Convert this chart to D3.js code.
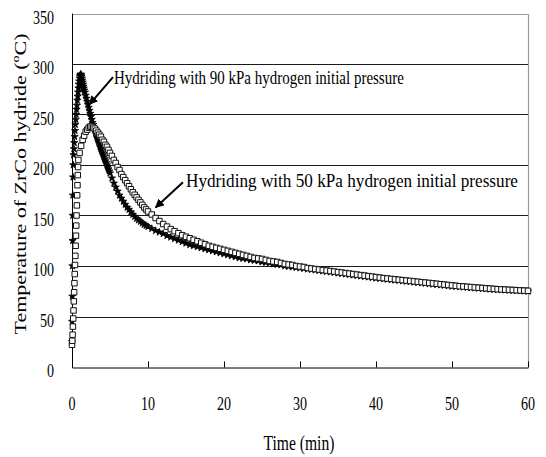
<!DOCTYPE html>
<html><head><meta charset="utf-8">
<script src="https://cdn.jsdelivr.net/npm/d3@7"></script>
<style>
html,body{margin:0;padding:0;background:#fff;}
svg{display:block;font-family:"Liberation Serif","Times New Roman",serif;}
</style></head>
<body><svg id="c" width="546" height="457"></svg>
<script>
// ---- data ----
const xTicks = [0,10,20,30,40,50,60];
const yTicks = [0,50,100,150,200,250,300,350];
const xTitle = "Time (min)";
const yTitleMain = "Temperature of ZrCo hydride (";
const yTitleSup = "o";
const yTitleEnd = "C)";
const label90 = "Hydriding with 90 kPa hydrogen initial pressure";
const label50 = "Hydriding with 50 kPa hydrogen initial pressure";

// [time (min), temperature (°C)] — 90 kPa run
const series90 = [
[0,25],[0.02,45],[0.04,70],[0.06,100],[0.08,125],[0.1,150],[0.12,170],[0.14,188],[0.16,200],
[0.2,210],[0.25,216],[0.3,222],[0.35,228],[0.4,234],[0.45,240],[0.5,245],[0.55,250],[0.6,255],[0.65,259],
[0.7,264],[0.75,268],[0.8,272],[0.85,276],[0.9,280],[0.95,283],[1,286],[1.05,288],[1.1,289],[1.15,290],
[1.2,289],[1.25,288],[1.3,286],[1.35,284],[1.4,282],[1.45,280],[1.5,278],[1.55,276],[1.6,274],
[1.7,272],[1.8,269],[1.9,266],[2,263],[2.1,260],[2.2,257],[2.3,254],[2.4,251],[2.5,248],[2.6,245],
[2.7,242],[2.8,240],[2.9,237],[3,235],[3.1,232],[3.2,230],[3.3,227],[3.4,225],[3.5,223],[3.6,221],
[3.7,218],[3.8,216],[3.9,214],[4,212],[4.1,210],[4.2,208],[4.3,206],[4.4,204],[4.5,202],[4.6,200],
[4.7,198],[4.8,196],[4.9,194],[5,192],
[5.25,187],[5.5,182],[5.75,178],[6,174],[6.25,170],[6.5,167],[6.75,164],[7,161],[7.25,158],[7.5,156],
[7.75,153.5],[8,151],[8.25,149],[8.5,147],[8.75,145.5],[9,144],[9.25,142.5],[9.5,141],[9.75,140],[10,139],
[10.5,137],[11,135],[11.5,133.5],[12,132],[12.5,130],[13,128.5],[13.5,127],[14,125.5],[14.5,124],[15,122.5],
[15.5,121],[16,120],[16.5,119],[17,118],[17.5,117],[18,116],[18.5,115],[19,114],[19.5,113],[20,112],
[20.5,111],[21,110],[21.5,109],[22,108],[22.5,107.5],[23,107],[23.5,106],[24,105.5],[24.5,105],[25,104],
[25.5,103.5],[26,103],[26.5,102],[27,101.5],[27.5,101],[28,100],[28.5,99.5],[29,99],[29.5,98.5],[30,98],
[30.5,97.5],[31,97],[31.5,96.5],[32,96],[32.5,95.5],[33,95],[33.5,94.5],[34,94],[34.5,93.5],[35,93],
[35.5,92.5],[36,92],[36.5,91.5],[37,91],[37.5,90.5],[38,90],[38.5,89.5],[39,89],[39.5,88.5],[40,88],
[40.5,87.6],[41,87.2],[41.5,86.8],[42,86.4],[42.5,86],[43,85.6],[43.5,85.2],[44,84.8],[44.5,84.4],[45,84],
[45.5,83.6],[46,83.2],[46.5,82.8],[47,82.4],[47.5,82],[48,81.6],[48.5,81.2],[49,80.8],[49.5,80.4],[50,80],
[50.5,79.7],[51,79.4],[51.5,79.1],[52,78.8],[52.5,78.5],[53,78.2],[53.5,77.9],[54,77.6],[54.5,77.3],[55,77],
[55.5,76.8],[56,76.6],[56.5,76.4],[57,76.2],[57.5,76],[58,75.8],[58.5,75.6],[59,75.4],[59.5,75.2],[60,75]
];

// [time (min), temperature (°C)] — 50 kPa run
const series50 = [
[0,22],[0.04,26],[0.08,32],[0.12,40],[0.16,48],[0.2,56],[0.24,65],[0.28,74],[0.32,83],[0.36,92],
[0.4,101],[0.44,110],[0.48,120],[0.52,130],[0.56,140],[0.6,150],[0.64,160],[0.68,170],[0.72,180],[0.76,190],
[0.8,198],[0.84,205],
[1,212],[1.2,219],[1.4,225],[1.6,229],[1.8,233],[2,235],[2.2,237],[2.4,238],[2.6,238],[2.8,237],
[3,236],[3.2,234],[3.4,232],[3.6,230],[3.8,228],[4,225],[4.2,223],[4.4,220],[4.6,218],[4.8,215],[5,212],
[5.25,209],[5.5,205],[5.75,202],[6,198],[6.25,195],[6.5,191],[6.75,188],[7,185],[7.25,182],[7.5,179],
[7.75,176],[8,173],[8.25,170.5],[8.5,168],[8.75,165.5],[9,163],[9.25,160.5],[9.5,158],[9.75,156],[10,154],
[10.5,151],[11,147.5],[11.5,144.5],[12,141.5],[12.5,139],[13,136.5],[13.5,134.5],[14,132.5],[14.5,130.5],[15,129],
[15.5,127.5],[16,126],[16.5,124.5],[17,123],[17.5,121.5],[18,120],[18.5,119],[19,118],[19.5,117],[20,116],
[20.5,115],[21,114],[21.5,113],[22,112],[22.5,111],[23,110],[23.5,109],[24,108],[24.5,107.5],[25,107],
[25.5,106],[26,105],[26.5,104.5],[27,104],[27.5,103],[28,102],[28.5,101.5],[29,101],[29.5,100],[30,99.5],
[30.5,99],[31,98],[31.5,97.5],[32,97],[32.5,96.5],[33,96],[33.5,95.5],[34,95],[34.5,94.5],[35,94],
[35.5,93.5],[36,93],[36.5,92.5],[37,92],[37.5,91.5],[38,91],[38.5,90.5],[39,90],[39.5,89.5],[40,89],
[40.5,88.5],[41,88],[41.5,87.6],[42,87.2],[42.5,86.8],[43,86.4],[43.5,86],[44,85.6],[44.5,85.2],[45,84.8],
[45.5,84.4],[46,84],[46.5,83.6],[47,83.2],[47.5,82.8],[48,82.4],[48.5,82],[49,81.6],[49.5,81.2],[50,80.8],
[50.5,80.4],[51,80],[51.5,79.7],[52,79.4],[52.5,79.1],[53,78.8],[53.5,78.5],[54,78.2],[54.5,77.9],[55,77.6],
[55.5,77.3],[56,77],[56.5,76.8],[57,76.6],[57.5,76.4],[58,76.2],[58.5,76],[59,75.8],[59.5,75.6],[60,75.4]
];

// annotation arrows: [fromTime, fromTemp, toTime, toTemp]
const arrow90 = [5.4, 287, 2.3, 260];
const arrow50 = [14.6, 183, 11.0, 158];

// ---- layout ----
const svg = d3.select("#c");
const L = 72, R = 528, T = 13.5, B = 367;
const SQ = 0.78; // horizontal squeeze of the original rendering
const x = d3.scaleLinear().domain([0,60]).range([L,R]);
const y = d3.scaleLinear().domain([0,350]).range([B,T]);

// gridlines
svg.append("g").selectAll("line").data(yTicks.filter(v=>v>0 && v<350)).join("line")
  .attr("x1",L).attr("x2",R)
  .attr("y1",d=>Math.round(y(d))+0.5).attr("y2",d=>Math.round(y(d))+0.5)
  .attr("stroke","#1a1a1a").attr("stroke-width",1);

// plot border top/right (gray)
svg.append("path")
  .attr("d",`M${L},${Math.round(T)+0.5}H${R+0.5}V${B}`)
  .attr("fill","none").attr("stroke","#9a9a9a").attr("stroke-width",1.2);

// x axis with inner ticks
const xAxis = d3.axisBottom(x).tickValues(xTicks).tickSizeInner(-6).tickSizeOuter(0).tickFormat("");
svg.append("g").attr("transform",`translate(0,${B+0.5})`).call(xAxis)
  .call(g=>g.selectAll("line,path").attr("stroke","#000"));
// y axis line
svg.append("line").attr("x1",L+0.5).attr("x2",L+0.5).attr("y1",T).attr("y2",B+1)
  .attr("stroke","#000").attr("stroke-width",1);

// tick labels
svg.append("g").selectAll("text").data(xTicks).join("text")
  .attr("transform",d=>`translate(${x(d)},410) scale(${SQ},1)`)
  .attr("text-anchor","middle").attr("font-size",18).attr("fill","#000")
  .text(d=>d);
svg.append("g").selectAll("text").data(yTicks).join("text")
  .attr("transform",d=>`translate(54,${y(d)+10}) scale(${SQ},1)`)
  .attr("text-anchor","end").attr("font-size",18).attr("fill","#000")
  .text(d=>d);

// axis titles
svg.append("text").attr("transform",`translate(299,450) scale(${SQ},1)`)
  .attr("text-anchor","middle").attr("font-size",20).text(xTitle);
const yt = svg.append("text").attr("transform",`translate(26,184) scale(${SQ},1) rotate(-90)`)
  .attr("text-anchor","middle").attr("font-size",22);
yt.append("tspan").text(yTitleMain);
yt.append("tspan").attr("font-size",14).attr("dy",-9).text(yTitleSup);
yt.append("tspan").attr("dy",9).text(yTitleEnd);

// series 90 kPa : small filled stars
const star = d3.symbol().type(d3.symbolStar).size(16);
svg.append("g").selectAll("path").data(series90).join("path")
  .attr("transform",d=>`translate(${x(d[0])},${y(d[1])})`)
  .attr("d",star).attr("fill","#000").attr("stroke","#000").attr("stroke-width",0.8);

// series 50 kPa : open squares
const sq = d3.symbol().type(d3.symbolSquare).size(30);
svg.append("g").selectAll("path").data(series50).join("path")
  .attr("transform",d=>`translate(${x(d[0])},${y(d[1])})`)
  .attr("d",sq).attr("fill","#fff").attr("stroke","#111").attr("stroke-width",1);

// arrows
svg.append("defs").append("marker").attr("id","ah")
  .attr("viewBox","0 0 10 10").attr("refX",9).attr("refY",5)
  .attr("markerWidth",4.5).attr("markerHeight",4.5).attr("orient","auto")
  .append("path").attr("d","M0,0L10,5L0,10Z").attr("fill","#000");
[arrow90, arrow50].forEach(a=>{
  svg.append("line")
    .attr("x1",x(a[0])).attr("y1",y(a[1])).attr("x2",x(a[2])).attr("y2",y(a[3]))
    .attr("stroke","#000").attr("stroke-width",2).attr("marker-end","url(#ah)");
});

// annotation labels (squeezed to the widths seen in the original)
function squeezedLabel(txt, x0, y0, width){
  const t = svg.append("text").attr("font-size",19).text(txt);
  const natural = t.node().getComputedTextLength();
  t.attr("transform",`translate(${x0},${y0}) scale(${width/natural},1)`);
}
squeezedLabel(label90, 114, 84, 290);
squeezedLabel(label50, 186, 187, 332);
</script>
</body></html>
